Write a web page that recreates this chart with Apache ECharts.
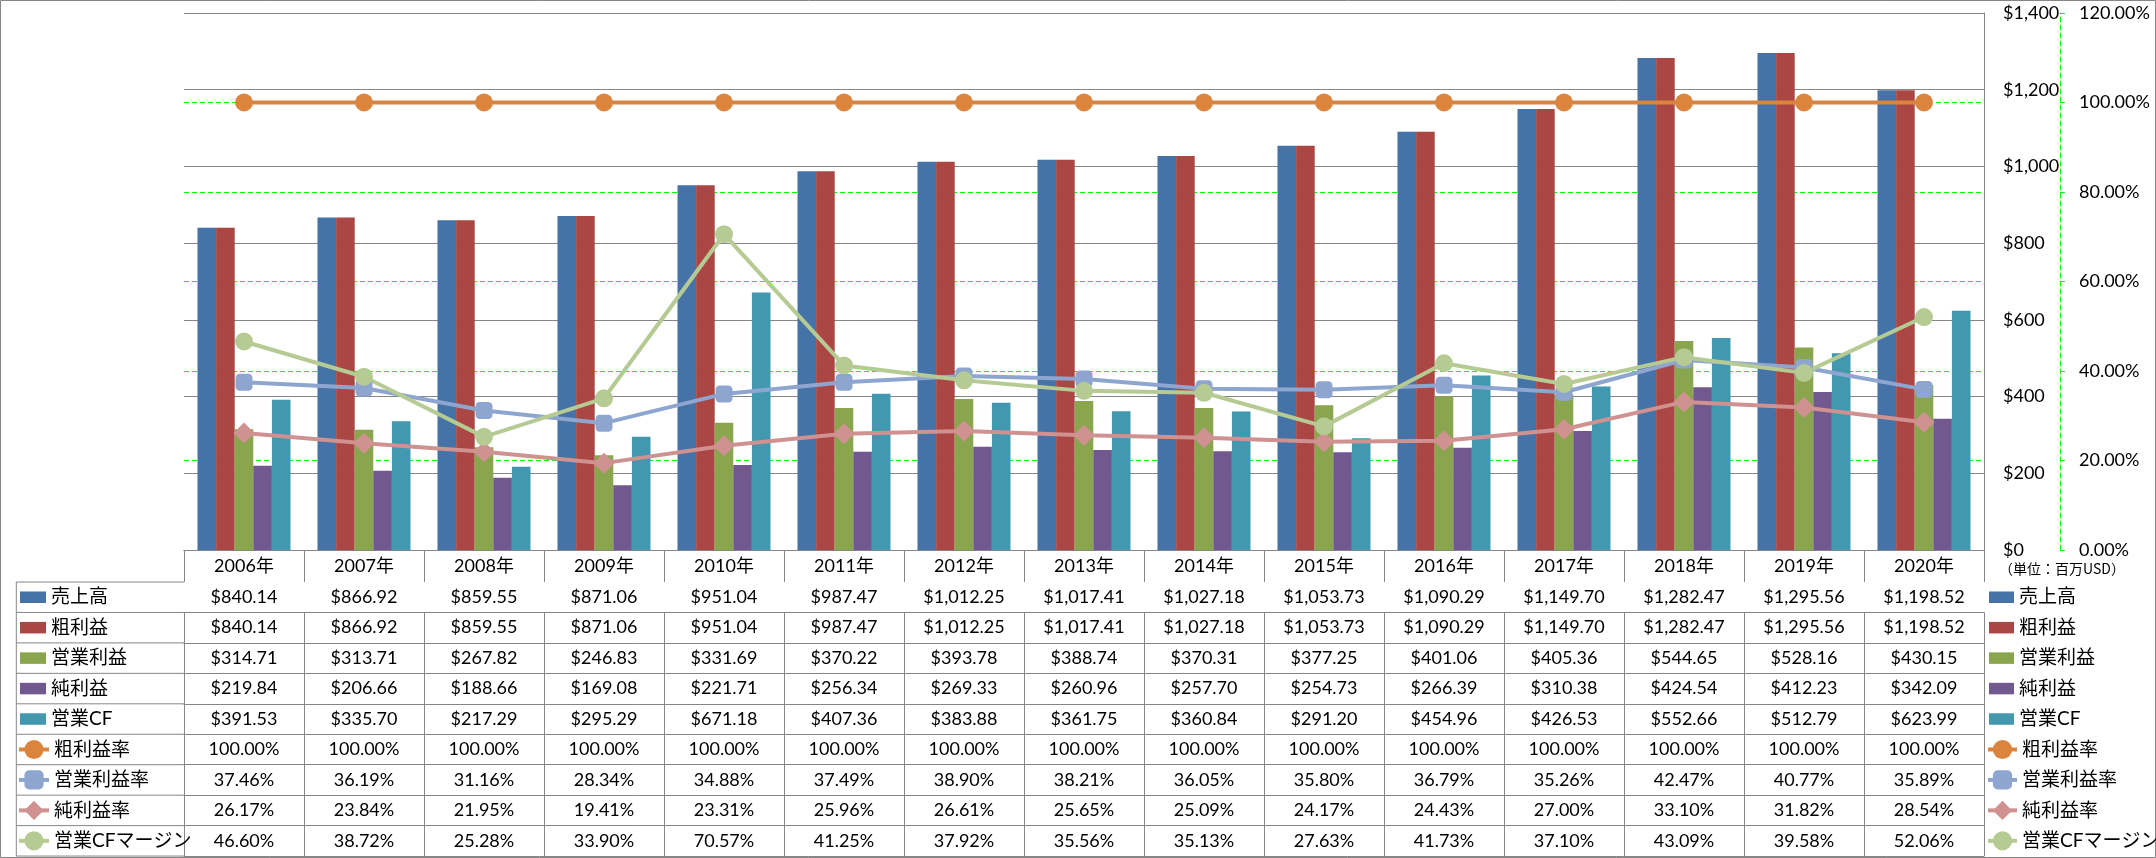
<!DOCTYPE html>
<html>
<head>
<meta charset="utf-8">
<script src="https://cdn.jsdelivr.net/npm/echarts@6/dist/echarts.min.js"></script>
<style>
html,body{margin:0;padding:0;background:#fff;}
#chart{width:2156px;height:858px;}
</style>
</head>
<body>
<div id="chart"></div>
<script>
// ---- data ----
const years = ['2006年','2007年','2008年','2009年','2010年','2011年','2012年','2013年','2014年','2015年','2016年','2017年','2018年','2019年','2020年'];
const sales       = [840.14, 866.92, 859.55, 871.06, 951.04, 987.47, 1012.25, 1017.41, 1027.18, 1053.73, 1090.29, 1149.70, 1282.47, 1295.56, 1198.52];
const grossProfit = [840.14, 866.92, 859.55, 871.06, 951.04, 987.47, 1012.25, 1017.41, 1027.18, 1053.73, 1090.29, 1149.70, 1282.47, 1295.56, 1198.52];
const opIncome    = [314.71, 313.71, 267.82, 246.83, 331.69, 370.22, 393.78, 388.74, 370.31, 377.25, 401.06, 405.36, 544.65, 528.16, 430.15];
const netIncome   = [219.84, 206.66, 188.66, 169.08, 221.71, 256.34, 269.33, 260.96, 257.70, 254.73, 266.39, 310.38, 424.54, 412.23, 342.09];
const opCF        = [391.53, 335.70, 217.29, 295.29, 671.18, 407.36, 383.88, 361.75, 360.84, 291.20, 454.96, 426.53, 552.66, 512.79, 623.99];
const grossMargin = [100, 100, 100, 100, 100, 100, 100, 100, 100, 100, 100, 100, 100, 100, 100];
const opMargin    = [37.46, 36.19, 31.16, 28.34, 34.88, 37.49, 38.90, 38.21, 36.05, 35.80, 36.79, 35.26, 42.47, 40.77, 35.89];
const netMargin   = [26.17, 23.84, 21.95, 19.41, 23.31, 25.96, 26.61, 25.65, 25.09, 24.17, 24.43, 27.00, 33.10, 31.82, 28.54];
const cfMargin    = [46.60, 38.72, 25.28, 33.90, 70.57, 41.25, 37.92, 35.56, 35.13, 27.63, 41.73, 37.10, 43.09, 39.58, 52.06];
const unitLabel = '（単位：百万USD）';

// ---- styling / layout ----
const FONT = "Lato, 'Noto Sans CJK JP', sans-serif";
const GRAY = '#868686';
const gridL = 184, gridR = 1984, gridT = 13, gridB = 550;
const headerH = 32, rowH = 30.45, labelColX = 16.3;

const money = v => '$' + v.toLocaleString('en-US', {minimumFractionDigits: 2, maximumFractionDigits: 2});
const pct = v => v.toFixed(2) + '%';

const barDefs = [
  {name: '売上高', data: sales, color: '#4572A7'},
  {name: '粗利益', data: grossProfit, color: '#AA4643'},
  {name: '営業利益', data: opIncome, color: '#89A54E'},
  {name: '純利益', data: netIncome, color: '#71588F'},
  {name: '営業CF', data: opCF, color: '#4198AF'}
];
const lineDefs = [
  {name: '粗利益率', data: grossMargin, color: '#DB843D', symbol: 'circle', size: 18},
  {name: '営業利益率', data: opMargin, color: '#8EA6CF', symbol: 'roundRect', size: 17},
  {name: '純利益率', data: netMargin, color: '#D09191', symbol: 'diamond', size: 21},
  {name: '営業CFマージン', data: cfMargin, color: '#B5CB93', symbol: 'circle', size: 18}
];
const rows = barDefs.map(b => ({data: b.data, fmt: money})).concat(lineDefs.map(l => ({data: l.data, fmt: pct})));

const series = [];
barDefs.forEach(b => series.push({
  name: b.name, type: 'bar', data: b.data, xAxisIndex: 0, yAxisIndex: 0,
  barGap: '0%', barCategoryGap: '22.5%',
  itemStyle: {color: b.color}
}));
lineDefs.forEach(l => series.push({
  name: l.name, type: 'line', data: l.data, xAxisIndex: 0, yAxisIndex: 1,
  symbol: l.symbol, symbolSize: l.size,
  lineStyle: {color: l.color, width: 4},
  itemStyle: {color: l.color},
  z: 3
}));

// x axes: header row (years) + one per data row + bottom line
const xAxes = [{
  type: 'category', data: years, gridIndex: 0, position: 'bottom', offset: 0,
  axisLine: {show: true, lineStyle: {color: GRAY, width: 1}},
  axisTick: {show: true, length: headerH, interval: 0, lineStyle: {color: GRAY}},
  axisLabel: {interval: 0, margin: headerH / 2, verticalAlign: 'middle', color: '#000', fontFamily: FONT, fontSize: 18},
  splitLine: {show: false}
}];
rows.forEach((r, i) => {
  xAxes.push({
    type: 'category', data: years, gridIndex: 0, position: 'bottom', offset: headerH + i * rowH,
    axisLine: {show: true, lineStyle: {color: GRAY, width: 1}},
    axisTick: {show: true, length: rowH, interval: 0, lineStyle: {color: GRAY}},
    axisLabel: {interval: 0, margin: rowH / 2, verticalAlign: 'middle', color: '#000', fontFamily: FONT, fontSize: 18,
      formatter: (val, idx) => r.fmt(r.data[idx])},
    splitLine: {show: false}
  });
});
xAxes.push({
  type: 'category', data: years, gridIndex: 0, position: 'bottom', offset: headerH + rows.length * rowH,
  axisLine: {show: true, lineStyle: {color: GRAY, width: 1}},
  axisTick: {show: false}, axisLabel: {show: false}, splitLine: {show: false}
});

// row header (left column) borders
const graphics = [{
  type: 'rect', silent: true,
  shape: {x: 0.5, y: 0.5, width: 2155, height: 857},
  style: {fill: 'none', stroke: GRAY, lineWidth: 1}
}, {
  type: 'line', silent: true,
  shape: {x1: labelColX, y1: gridB + headerH, x2: labelColX, y2: gridB + headerH + rows.length * rowH},
  style: {stroke: GRAY, lineWidth: 1}
}];
for (let i = 0; i <= rows.length; i++) {
  const y = gridB + headerH + i * rowH;
  graphics.push({type: 'line', silent: true, shape: {x1: labelColX, y1: y, x2: gridL, y2: y}, style: {stroke: GRAY, lineWidth: 1}});
}
graphics.push({
  type: 'text', silent: true, left: 1999, top: 562,
  style: {text: unitLabel, fill: '#000', font: "14px 'Noto Sans CJK JP'"}
});

const rowCenter = i => gridB + headerH + i * rowH + rowH / 2;
function legend(names, left, topRow, iw, ih, isBar) {
  const LH = Math.max(22, ih);
  return {
    orient: 'vertical', left: left, top: rowCenter(topRow) - LH / 2, padding: 0,
    itemGap: rowH - LH, itemWidth: iw, itemHeight: ih, selectedMode: false,
    data: names.map(n => isBar ? {name: n, icon: 'rect'} : {name: n}),
    lineStyle: isBar ? undefined : {width: 4},
    textStyle: {fontFamily: FONT, fontSize: 19, color: '#000', lineHeight: LH}
  };
}
const barNames = barDefs.map(b => b.name), lineNames = lineDefs.map(l => l.name);

const option = {
  animation: false,
  backgroundColor: '#fff',
  grid: {left: gridL, right: 2156 - gridR, top: gridT, bottom: 858 - gridB, containLabel: false},
  legend: [
    legend(barNames, 20, 0, 26, 11.5, true),
    legend(lineNames, 17, 5, 30, 24, false),
    legend(barNames, 1989, 0, 25, 11.5, true),
    legend(lineNames, 1986, 5, 29, 24, false)
  ],
  xAxis: xAxes,
  yAxis: [{
    type: 'value', position: 'right', offset: 0, min: 0, max: 1400, interval: 200, z: 2,
    axisLine: {show: true, lineStyle: {color: GRAY}},
    axisTick: {show: false},
    axisLabel: {margin: 19, color: '#000', fontFamily: FONT, fontSize: 18,
      formatter: v => '$' + v.toLocaleString('en-US')},
    splitLine: {show: true, lineStyle: {color: GRAY, width: 1}}
  }, {
    type: 'value', position: 'right', offset: 76, min: 0, max: 120, interval: 20, z: 1,
    axisLine: {show: true, lineStyle: {color: '#00FF00', type: [5, 3], width: 1}},
    axisTick: {show: true, length: 5, lineStyle: {color: '#00FF00'}},
    axisLabel: {margin: 19, color: '#000', fontFamily: FONT, fontSize: 18,
      formatter: v => v.toFixed(2) + '%'},
    splitLine: {show: true, lineStyle: {color: '#00FF00', type: [5, 3], width: 1}}
  }],
  series: series,
  graphic: graphics
};

const chart = echarts.init(document.getElementById('chart'), null, {renderer: 'canvas'});
chart.setOption(option);
</script>
</body>
</html>
